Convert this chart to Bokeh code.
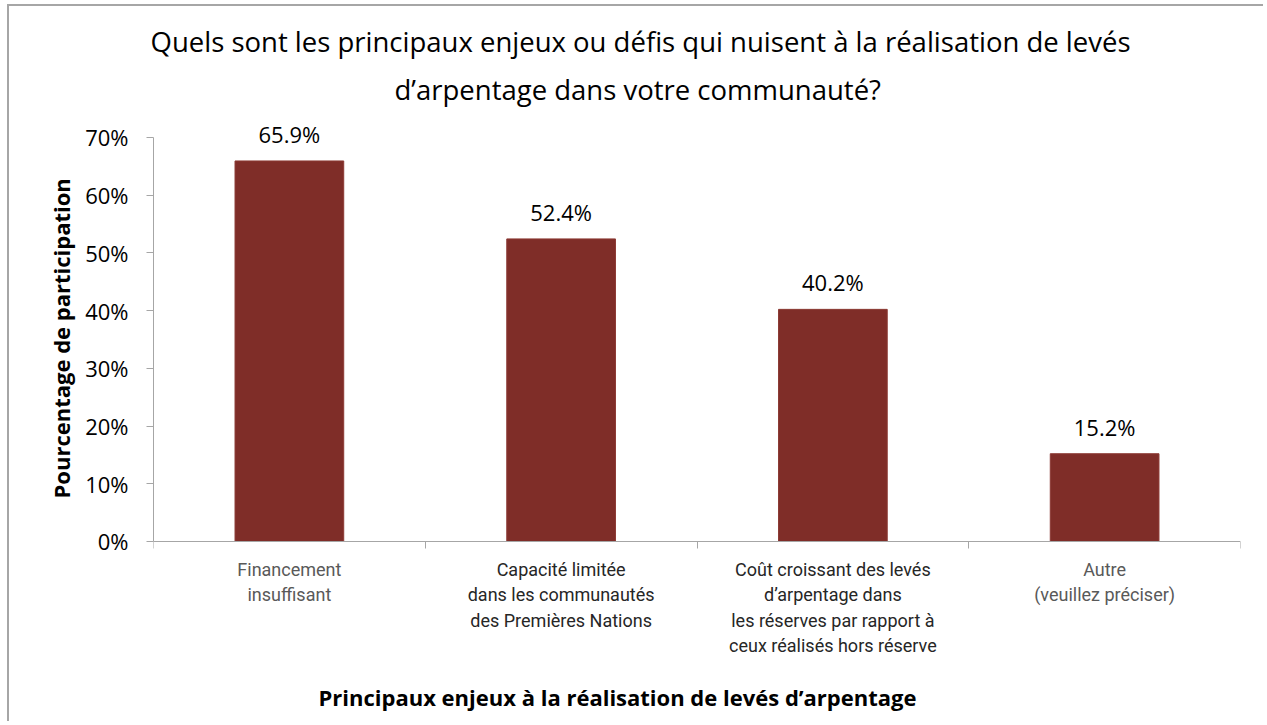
from bokeh.plotting import figure
from bokeh.models import (Range1d, FixedTicker, LabelSet,
                          ColumnDataSource, Title, PrintfTickFormatter)
from bokeh.core.properties import value
from bokeh.embed import file_html
from bokeh.resources import INLINE

# ---- data ----
categories = [
    "Financement\ninsuffisant",
    "Capacité limitée\ndans les communautés\ndes Premières Nations",
    "Coût croissant des levés\nd’arpentage dans\nles réserves par rapport à\nceux réalisés hors réserve",
    "Autre\n(veuillez préciser)",
]
values = [65.9, 52.4, 40.2, 15.2]
label_colors = ["#595959", "#262626", "#262626", "#595959"]
y_ticks = [0, 10, 20, 30, 40, 50, 60, 70]
title_line1 = "Quels sont les principaux enjeux ou défis qui nuisent à la réalisation de levés"
title_line2 = "d’arpentage dans votre communauté?"
x_title = "Principaux enjeux à la réalisation de levés d’arpentage"
y_title = "Pourcentage de participation"

FONT = "Open Sans"
BAR = "#7F2D28"
AXIS = "#a6a6a6"

n = len(categories)
pos = [i + 0.5 for i in range(n)]
src = ColumnDataSource(dict(
    pos=pos,
    val=values,
    lbl=[f"{v:.1f}%" for v in values],
))

# one row per line of each category label (offsets in screen pixels, downward)
rows = dict(pos=[], txt=[], col=[], yoff=[])
for i, cat in enumerate(categories):
    for k, line in enumerate(cat.split("\n")):
        rows["pos"].append(pos[i])
        rows["txt"].append(line)
        rows["col"].append(label_colors[i])
        rows["yoff"].append(28 + 25.5 * k)
cat_src = ColumnDataSource(rows)

p = figure(
    x_range=Range1d(0, n),
    y_range=Range1d(-23.9, 73.6),
    width=1256, height=717,
    output_backend="svg", toolbar_location=None,
    title_location=None,
    min_border_left=144, min_border_top=110,
    min_border_right=25, min_border_bottom=44,
)
p.outline_line_color = None
p.xgrid.visible = False
p.ygrid.visible = False
p.background_fill_color = "white"
p.border_fill_color = "white"
p.styles = {"border-left": "2px solid #a6a6a6", "border-top": "2px solid #a6a6a6",
            "margin-left": "7px", "margin-top": "4px"}

p.vbar(x="pos", top="val", width=0.4, source=src, fill_color=BAR, line_color="#8C3A34", line_width=1)

# y axis
ya = p.yaxis[0]
ya.ticker = FixedTicker(ticks=y_ticks)
ya.bounds = (y_ticks[0], y_ticks[-1])
ya.formatter = PrintfTickFormatter(format="%d%%")
ya.major_tick_in = 0
ya.major_tick_out = 7
ya.minor_tick_line_color = None
ya.axis_line_color = AXIS
ya.major_tick_line_color = AXIS
ya.major_label_text_font = FONT
ya.major_label_text_font_size = "22px"
ya.major_label_text_color = "black"
ya.major_label_standoff = 18

# x axis at y = 0: tick marks on the boundaries between categories
xa = p.xaxis[0]
xa.fixed_location = 0
xa.ticker = FixedTicker(ticks=[], minor_ticks=list(range(n + 1)))
xa.major_tick_line_color = None
xa.minor_tick_in = 0
xa.minor_tick_out = 7
xa.minor_tick_line_color = AXIS
xa.axis_line_color = AXIS

# category labels
p.text(x="pos", y=0, text="txt", y_offset="yoff", source=cat_src,
       text_align="center", text_baseline="middle",
       text_font=value("Roboto"), text_font_size="18px", text_color="col")

# data labels
p.add_layout(LabelSet(
    x="pos", y="val", text="lbl", source=src,
    text_align="center", text_baseline="middle", y_offset=27,
    text_font=value(FONT), text_font_size="22px", text_color="black",
))

# titles
t2 = Title(text=title_line2, align="left", offset=241, standoff=18,
           text_font=FONT, text_font_size="27.5px", text_font_style="normal", text_color="black")
t1 = Title(text=title_line1, align="left", offset=-3, standoff=0,
           text_font=FONT, text_font_size="27.5px", text_font_style="normal", text_color="black")
p.add_layout(t2, "above")
p.add_layout(t1, "above")

yt = Title(text=y_title, align="left", offset=181, standoff=13,
           text_font=FONT, text_font_size="22px", text_font_style="bold", text_color="black")
p.add_layout(yt, "left")

xt = Title(text=x_title, align="left", offset=165, standoff=0,
           text_font=FONT, text_font_size="22px", text_font_style="bold", text_color="black")
p.add_layout(xt, "below")

open("out.html", "w").write(file_html(p, INLINE))
